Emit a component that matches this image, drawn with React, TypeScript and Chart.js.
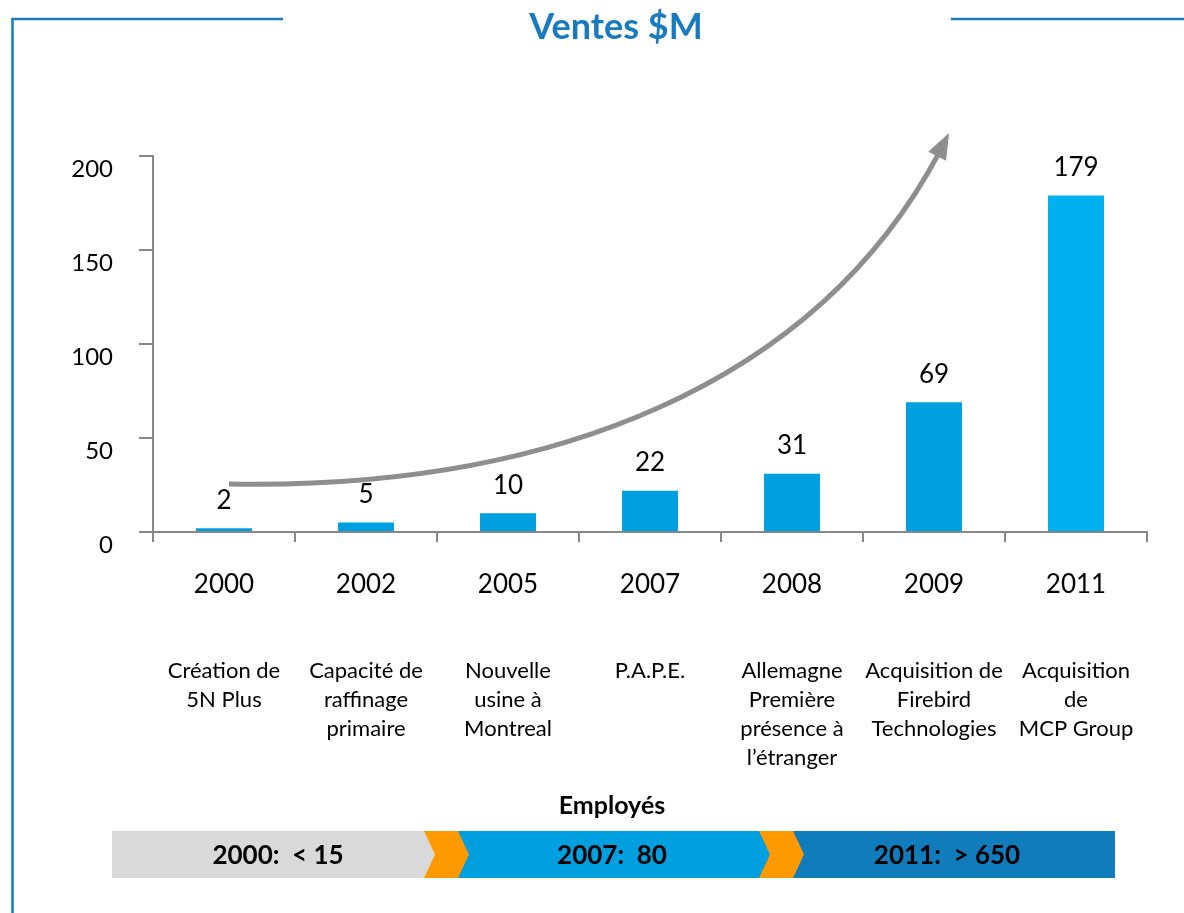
import React, { useEffect, useRef } from 'react';
import { Chart, registerables } from 'chart.js';

Chart.register(...registerables);

// ---------- data ----------
const years = ['2000', '2002', '2005', '2007', '2008', '2009', '2011'];
const sales = [2, 5, 10, 22, 31, 69, 179];
const barColors = ['#009FDF', '#009FDF', '#009FDF', '#009FDF', '#009FDF', '#009FDF', '#00B0F0'];
const milestones = [
  ['Création de', '5N Plus'],
  ['Capacité de', 'raffinage', 'primaire'],
  ['Nouvelle', 'usine à', 'Montreal'],
  ['P.A.P.E.'],
  ['Allemagne', 'Première', 'présence à', 'l’étranger'],
  ['Acquisition de', 'Firebird', 'Technologies'],
  ['Acquisition', 'de', 'MCP Group'],
];
const yMin = 0;
const yMax = 200;
const yStep = 50;
const titleText = 'Ventes $M';
const employeesTitle = 'Employés';
const employeeLabels = ['2000:  < 15', '2007:  80', '2011:  > 650'];
const employeeColors = ['#D9D9D9', '#009FDF', '#107CBB'];
// growth arrow: cubic Bézier (start, control 1, control 2, tip) in data units (category index, $M)
const arrowX = [0.035, 2.366, 4.268, 5.106];
const arrowY = [25.5, 22.3, 81.2, 212.2];

const FONT = 'Lato';
const BLUE = '#187BC0';
const AXIS = '#868686';

type P = { x: number; y: number };
const lerp = (a: P, b: P, t: number): P => ({ x: a.x + (b.x - a.x) * t, y: a.y + (b.y - a.y) * t });
const bez = (p: P[], t: number): P => {
  const a = lerp(p[0], p[1], t), b = lerp(p[1], p[2], t), c = lerp(p[2], p[3], t);
  const d = lerp(a, b, t), e = lerp(b, c, t);
  return lerp(d, e, t);
};
const splitLeft = (p: P[], t: number): P[] => {
  const a = lerp(p[0], p[1], t), b = lerp(p[1], p[2], t), c = lerp(p[2], p[3], t);
  const d = lerp(a, b, t), e = lerp(b, c, t);
  return [p[0], a, d, lerp(d, e, t)];
};

const decorPlugin = {
  id: 'decor',
  beforeDraw(chart: any) {
    const ctx = chart.ctx;
    ctx.save();
    ctx.fillStyle = '#ffffff';
    ctx.fillRect(0, 0, chart.width, chart.height);
    // frame
    ctx.strokeStyle = BLUE;
    ctx.lineWidth = 2.5;
    ctx.beginPath();
    ctx.moveTo(12.5, chart.height);
    ctx.lineTo(12.5, 19);
    ctx.lineTo(283, 19);
    ctx.moveTo(951, 19);
    ctx.lineTo(chart.width, 19);
    ctx.stroke();
    // title
    ctx.fillStyle = BLUE;
    ctx.font = `bold 36px ${FONT}`;
    ctx.textAlign = 'center';
    ctx.textBaseline = 'middle';
    ctx.fillText(titleText, 616, 27);
    ctx.restore();
  },
  afterDraw(chart: any) {
    const ctx = chart.ctx;
    const xs = chart.scales.x;
    const ys = chart.scales.y;
    const area = chart.chartArea;
    ctx.save();

    // data labels
    const meta = chart.getDatasetMeta(0);
    ctx.fillStyle = '#000';
    ctx.font = `26px ${FONT}`;
    ctx.textAlign = 'center';
    ctx.textBaseline = 'middle';
    meta.data.forEach((bar: any, i: number) => {
      ctx.fillText(String(sales[i]), bar.x, bar.y - 28);
    });

    // milestone descriptions
    ctx.font = `22px ${FONT}`;
    milestones.forEach((lines, i) => {
      const cx = xs.getPixelForValue(i);
      lines.forEach((ln, k) => {
        ctx.fillText(ln, cx, area.bottom + 139 + k * 29);
      });
    });

    // growth arrow
    const pts: P[] = arrowX.map((v, i) => ({ x: xs.getPixelForValue(v), y: ys.getPixelForValue(arrowY[i]) }));
    const tip = pts[3];
    const headLen = 26;
    const headHalf = 10;
    let tCut = 1;
    for (let t = 1; t > 0; t -= 0.001) {
      const q = bez(pts, t);
      if (Math.hypot(q.x - tip.x, q.y - tip.y) >= headLen) {
        tCut = t;
        break;
      }
    }
    const baseP = bez(pts, tCut);
    let dx = tip.x - baseP.x;
    let dy = tip.y - baseP.y;
    const len = Math.hypot(dx, dy);
    dx /= len;
    dy /= len;
    const shaftEnd = Math.min(1, tCut + 0.005);
    const sh = splitLeft(pts, shaftEnd);
    ctx.strokeStyle = '#8E8E8E';
    ctx.fillStyle = '#8E8E8E';
    ctx.lineWidth = 5;
    ctx.lineCap = 'butt';
    ctx.beginPath();
    ctx.moveTo(sh[0].x, sh[0].y);
    ctx.bezierCurveTo(sh[1].x, sh[1].y, sh[2].x, sh[2].y, sh[3].x, sh[3].y);
    ctx.stroke();
    ctx.beginPath();
    ctx.moveTo(tip.x, tip.y);
    ctx.lineTo(baseP.x - dy * headHalf, baseP.y + dx * headHalf);
    ctx.lineTo(baseP.x + dy * headHalf, baseP.y - dx * headHalf);
    ctx.closePath();
    ctx.fill();

    // employees band
    ctx.fillStyle = '#000';
    ctx.font = `bold 25px ${FONT}`;
    ctx.fillText(employeesTitle, 612, 806);
    const y0 = 831;
    const h = 47;
    const segs = [
      [112, 436],
      [458, 771],
      [792, 1115],
    ];
    segs.forEach((s, i) => {
      ctx.fillStyle = employeeColors[i];
      ctx.fillRect(s[0], y0, s[1] - s[0], h);
    });
    [424, 759].forEach((cx) => {
      ctx.fillStyle = '#FF9900';
      ctx.beginPath();
      ctx.moveTo(cx, y0);
      ctx.lineTo(cx + 34, y0);
      ctx.lineTo(cx + 45, y0 + h / 2);
      ctx.lineTo(cx + 34, y0 + h);
      ctx.lineTo(cx, y0 + h);
      ctx.lineTo(cx + 11, y0 + h / 2);
      ctx.closePath();
      ctx.fill();
    });
    ctx.fillStyle = '#000';
    ctx.font = `bold 26px ${FONT}`;
    const centers = [278, 612, 947];
    employeeLabels.forEach((t, i) => ctx.fillText(t, centers[i], y0 + h / 2 + 1));
    ctx.restore();
  },
};

export default function App() {
  const ref = useRef<HTMLCanvasElement | null>(null);
  useEffect(() => {
    if (!ref.current) return;
    const chart = new Chart(ref.current, {
      type: 'bar',
      data: {
        labels: years,
        datasets: [
          {
            data: sales,
            backgroundColor: barColors,
            barPercentage: 0.394,
            categoryPercentage: 1,
          },
        ],
      },
      options: {
        animation: false,
        responsive: false,
        devicePixelRatio: 1,
        layout: { padding: { left: 0, right: 37, top: 156, bottom: 0 } },
        plugins: { legend: { display: false }, title: { display: false }, tooltip: { enabled: false } },
        scales: {
          x: {
            offset: true,
            grid: { offset: true, drawOnChartArea: false, drawTicks: true, tickLength: 10, color: AXIS, lineWidth: 2 },
            border: { color: AXIS, width: 2 },
            ticks: { font: { family: FONT, size: 26 }, color: '#000', padding: 27, maxRotation: 0, autoSkip: false },
            afterFit: (s: any) => {
              s.height = 913 - 532;
            },
          },
          y: {
            min: yMin,
            max: yMax,
            grid: { drawOnChartArea: false, drawTicks: true, tickLength: 14, color: AXIS, lineWidth: 2 },
            border: { color: AXIS, width: 2 },
            ticks: { stepSize: yStep, font: { family: FONT, size: 24 }, color: '#000', padding: 26, labelOffset: 13 },
            afterFit: (s: any) => {
              s.width = 153;
            },
          },
        },
      },
      plugins: [decorPlugin],
    });
    return () => chart.destroy();
  }, []);
  return (
    <div style={{ position: 'absolute', left: 0, top: 0, width: 1184, height: 913 }}>
      <canvas ref={ref} width={1184} height={913} style={{ display: 'block' }} />
    </div>
  );
}
